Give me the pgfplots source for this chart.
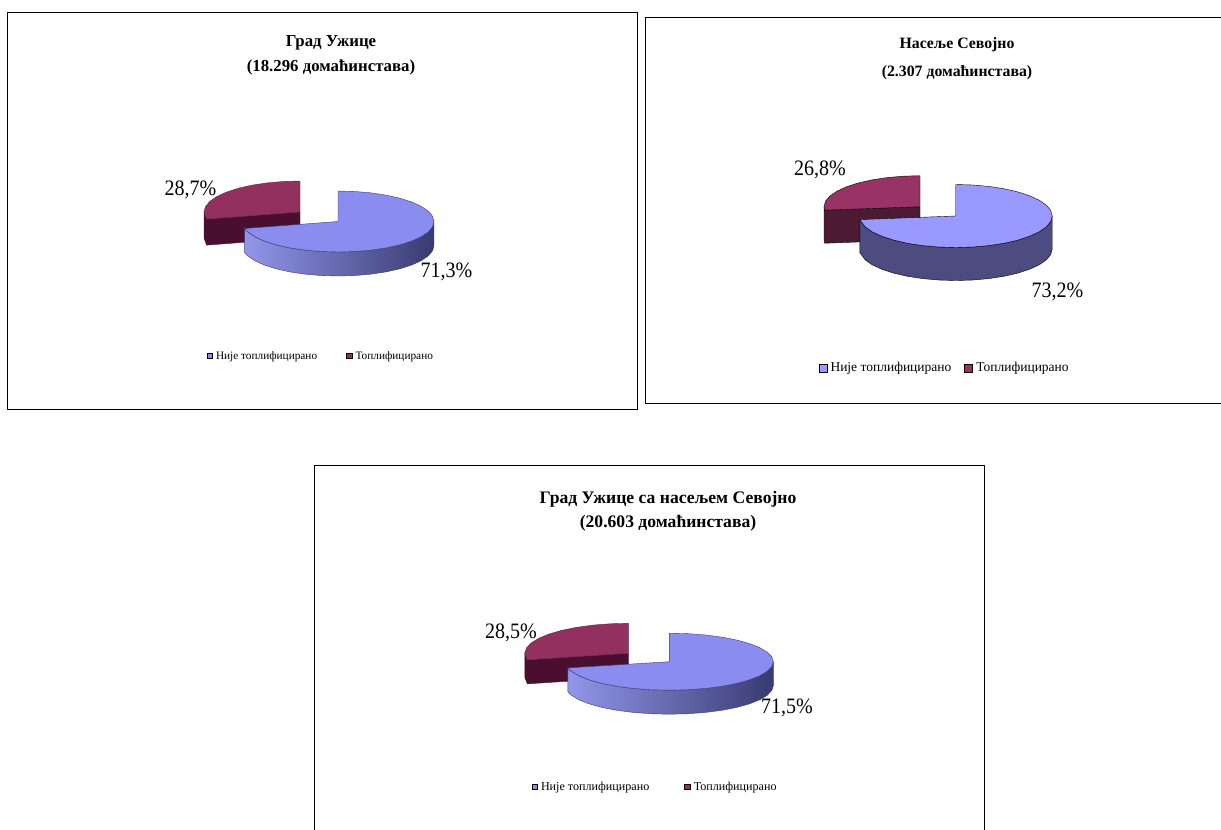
\documentclass[border=0pt]{standalone}
\usepackage{fontspec}
\setmainfont{Liberation Serif}
\usepackage{pgfplots}
\usepackage{pgfplotstable}
\pgfplotsset{compat=1.18}

\definecolor{topblue}{HTML}{8A8CF0}
\definecolor{wallA}{HTML}{9396EA}
\definecolor{wallB}{HTML}{6A6DBE}
\definecolor{wallC}{HTML}{383B70}
\definecolor{topred}{HTML}{92305F}
\definecolor{darkred}{HTML}{4A0F30}
\definecolor{flatblue}{HTML}{9999FF}
\definecolor{flatwall}{HTML}{4C4C80}
\definecolor{flatred}{HTML}{993366}
\definecolor{flatdark}{HTML}{4D1A33}

% slice outlines: r radius, z 0 top/1 bottom, then the angle clockwise from
% twelve o'clock for each of the three pies (only the cut differs: 71,3 73,2 71,5)
\pgfplotstableread{
r z a b c
0 0 0 0 0
1 0 0 0 0
1 0 10 10 10
1 0 20 20 20
1 0 30 30 30
1 0 40 40 40
1 0 50 50 50
1 0 60 60 60
1 0 70 70 70
1 0 80 80 80
1 0 90 90 90
1 0 100 100 100
1 0 110 110 110
1 0 120 120 120
1 0 130 130 130
1 0 140 140 140
1 0 150 150 150
1 0 160 160 160
1 0 170 170 170
1 0 180 180 180
1 0 190 190 190
1 0 200 200 200
1 0 210 210 210
1 0 220 220 220
1 0 230 230 230
1 0 240 240 240
1 0 250 250 250
1 0 256.7 263.5 257.4
0 0 0 0 0
}\bluetop
\pgfplotstableread{
r z a b c
1 0 90 90 90
1 0 100 100 100
1 0 110 110 110
1 0 120 120 120
1 0 130 130 130
1 0 140 140 140
1 0 150 150 150
1 0 160 160 160
1 0 170 170 170
1 0 180 180 180
1 0 190 190 190
1 0 200 200 200
1 0 210 210 210
1 0 220 220 220
1 0 230 230 230
1 0 240 240 240
1 0 250 250 250
1 0 256.7 263.5 257.4
1 1 256.7 263.5 257.4
1 1 250 250 250
1 1 240 240 240
1 1 230 230 230
1 1 220 220 220
1 1 210 210 210
1 1 200 200 200
1 1 190 190 190
1 1 180 180 180
1 1 170 170 170
1 1 160 160 160
1 1 150 150 150
1 1 140 140 140
1 1 130 130 130
1 1 120 120 120
1 1 110 110 110
1 1 100 100 100
1 1 90 90 90
1 0 90 90 90
}\bluewall
\pgfplotstableread{
r z a b c
0 0 0 0 0
1 0 256.7 263.5 257.4
1 0 270 270 270
1 0 280 280 280
1 0 290 290 290
1 0 300 300 300
1 0 310 310 310
1 0 320 320 320
1 0 330 330 330
1 0 340 340 340
1 0 350 350 350
1 0 360 360 360
0 0 0 0 0
}\redtop
\pgfplotstableread{
r z a b c
0 0 0 0 0
1 0 256.7 263.5 257.4
1 0 270 270 270
1 1 270 270 270
1 1 256.7 263.5 257.4
0 1 0 0 0
0 0 0 0 0
}\redwall

% options, table, angle column, cx, cy, rx, ry, height
\newcommand{\face}[8]{\addplot[#1] table[x expr={#4+#6*\thisrow{r}*sin(\thisrow{#3})},
  y expr={#5-#7*\thisrow{r}*cos(\thisrow{#3})+#8*\thisrow{z}}] {#2};}
\newcommand{\pct}{\fontsize{22pt}{24pt}\selectfont}

\tikzset{pctlabel/.style={font=\pct, xscale=0.91}}
\pgfplotsset{
  panel/.style={
    scale only axis, clip=false, anchor=north west,
    y dir=reverse, xtick=\empty, ytick=\empty,
    axis line style={line width=0.9pt},
    reverse legend,
    legend image code/.code={\draw[##1,draw=black,line width=1pt] (0pt,-2.5pt) rectangle (5.5pt,2.5pt);},
    legend style={draw=none, fill=none, anchor=west, legend columns=2, inner sep=0pt, outer sep=0pt,
      nodes={inner sep=1pt, anchor=west},
      /tikz/every odd column/.append style={column sep=2pt}},
  },
}

\begin{document}
\begin{tikzpicture}
\useasboundingbox (0,0) rectangle (1221pt,-830pt);

% Grad Uzice
\begin{axis}[panel, at={(7pt,-12pt)}, width=630pt, height=397pt,
  xmin=7, xmax=637, ymin=12, ymax=409,
  title={Град Ужице\\(18.296 домаћинстава)},
  title style={at={(axis cs:331,61.5)}, anchor=center, align=center,
    font=\fontsize{16.8pt}{25pt}\selectfont\bfseries},
  legend style={at={(axis cs:206.5,356)}, font=\fontsize{11.3pt}{13pt}\selectfont,
    /tikz/every even column/.append style={column sep=28pt}}]
\face{draw=darkred, thin, fill=darkred, forget plot}{\redwall}{a}{300}{212}{96}{31}{26}
\face{draw=topred!70!black, thin, fill=topred}{\redtop}{a}{300}{212}{96}{31}{26}
\addlegendentry{Топлифицирано}
\face{draw=wallC, thin, left color=wallA, middle color=wallB, right color=wallC, forget plot}{\bluewall}{a}{338}{221.5}{96}{30.5}{24}
\face{draw=wallC, thin, fill=topblue}{\bluetop}{a}{338}{221.5}{96}{30.5}{24}
\addlegendentry{Није топлифицирано}
\node[pctlabel] at (axis cs:190.5,190) {28,7\%};
\node[pctlabel] at (axis cs:446.5,272) {71,3\%};
\end{axis}

% Naselje Sevojno
\begin{axis}[panel, at={(645pt,-17.5pt)}, width=590pt, height=385.5pt,
  xmin=645, xmax=1235, ymin=17.5, ymax=403,
  title={Насеље Севојно\\(2.307 домаћинстава)},
  title style={at={(axis cs:957,65)}, anchor=center, align=center,
    font=\fontsize{15.8pt}{28pt}\selectfont\bfseries},
  legend style={at={(axis cs:818.5,368)}, font=\fontsize{13.5pt}{15pt}\selectfont,
    /tikz/every even column/.append style={column sep=12pt}},
  legend image code/.code={\draw[#1,draw=black,line width=1pt] (0pt,-4pt) rectangle (8pt,4pt);}]
\face{draw=black, thin, fill=flatdark, forget plot}{\redwall}{b}{920}{206.7}{96}{31}{33}
\face{draw=black, thin, fill=flatred}{\redtop}{b}{920}{206.7}{96}{31}{33}
\addlegendentry{Топлифицирано}
\face{draw=black, thin, fill=flatwall, forget plot}{\bluewall}{b}{955.7}{216}{96.5}{31.5}{33}
\face{draw=black, thin, fill=flatblue}{\bluetop}{b}{955.7}{216}{96.5}{31.5}{33}
\addlegendentry{Није топлифицирано}
\node[pctlabel] at (axis cs:820,170) {26,8\%};
\node[pctlabel] at (axis cs:1057.5,292) {73,2\%};
\end{axis}

% Grad Uzice with Sevojno
\begin{axis}[panel, at={(314pt,-465pt)}, width=670pt, height=380pt,
  xmin=314, xmax=984, ymin=465, ymax=845,
  title={Град Ужице са насељем Севојно\\(20.603 домаћинстава)},
  title style={at={(axis cs:668,517)}, anchor=center, align=center,
    font=\fontsize{17.6pt}{24pt}\selectfont\bfseries},
  legend style={at={(axis cs:531.5,787)}, font=\fontsize{12.1pt}{14pt}\selectfont,
    /tikz/every even column/.append style={column sep=34pt}}]
\face{draw=darkred, thin, fill=darkred, forget plot}{\redwall}{c}{628.3}{653.3}{103.5}{30}{24}
\face{draw=topred!70!black, thin, fill=topred}{\redtop}{c}{628.3}{653.3}{103.5}{30}{24}
\addlegendentry{Топлифицирано}
\face{draw=wallC, thin, left color=wallA, middle color=wallB, right color=wallC, forget plot}{\bluewall}{c}{669.3}{661.7}{104}{28.5}{24}
\face{draw=wallC, thin, fill=topblue}{\bluetop}{c}{669.3}{661.7}{104}{28.5}{24}
\addlegendentry{Није топлифицирано}
\node[pctlabel] at (axis cs:511,633) {28,5\%};
\node[pctlabel] at (axis cs:787,708) {71,5\%};
\end{axis}
\end{tikzpicture}
\end{document}
